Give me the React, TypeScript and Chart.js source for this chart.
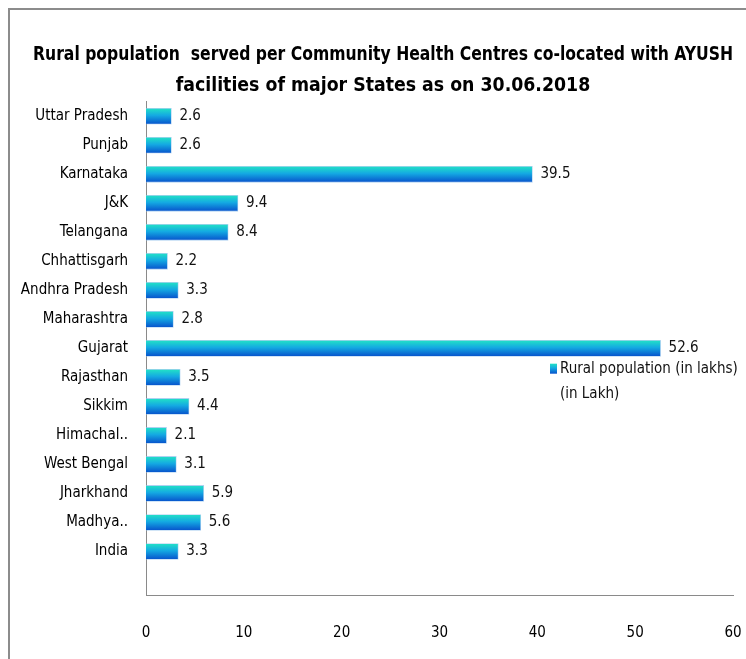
import React, { useEffect, useRef } from "react";
import { Chart, registerables } from "chart.js";

Chart.register(...registerables);

const categories = [
  "Uttar Pradesh", "Punjab", "Karnataka", "J&K", "Telangana", "Chhattisgarh",
  "Andhra Pradesh", "Maharashtra", "Gujarat", "Rajasthan", "Sikkim",
  "Himachal..", "West Bengal", "Jharkhand", "Madhya..", "India",
];
const values = [2.6, 2.6, 39.5, 9.4, 8.4, 2.2, 3.3, 2.8, 52.6, 3.5, 4.4, 2.1, 3.1, 5.9, 5.6, 3.3];
const xTicks = [0, 10, 20, 30, 40, 50, 60];
const seriesName = "Rural population (in lakhs)";
const legendExtra = "(in Lakh)";
const titleLines = [
  "Rural population  served per Community Health Centres co-located with AYUSH",
  "facilities of major States as on 30.06.2018",
];

const FONT = "'Liberation Sans Narrow', 'DejaVu Sans Condensed', 'Open Sans', sans-serif";
const BAR_H = 16;

function makeGrad(ctx: CanvasRenderingContext2D, top: number, h: number) {
  if (!isFinite(top) || !isFinite(h)) return "#14a9e2";
  const g = ctx.createLinearGradient(0, top, 0, top + h);
  g.addColorStop(0, "#22e2c6");
  g.addColorStop(0.45, "#14a9e2");
  g.addColorStop(1, "#0752cc");
  return g;
}

const titleShiftPlugin = {
  id: "titleShift",
  afterLayout(chart: any) {
    const t = chart.titleBlock;
    if (t) t.left = 23;
  },
};

const labelPlugin = {
  id: "valueLabels",
  afterDatasetsDraw(chart: any) {
    const ctx = chart.ctx;
    const meta = chart.getDatasetMeta(0);
    ctx.save();
    ctx.font = `15px ${FONT}`;
    ctx.fillStyle = "#111";
    ctx.textAlign = "left";
    ctx.textBaseline = "middle";
    meta.data.forEach((el: any, i: number) => {
      const v = values[i];
      if (v == null) return;
      ctx.fillText(v.toFixed(1), el.x + 8, el.y);
    });
    ctx.restore();
  },
};

const legendPlugin = {
  id: "customLegend",
  afterDraw(chart: any) {
    const ctx = chart.ctx;
    const area = chart.chartArea;
    const y = chart.scales.y.getPixelForValue(8.7);
    const x = area.right - 183;
    ctx.save();
    ctx.fillStyle = makeGrad(ctx, y - 5, 10);
    ctx.fillRect(x, y - 5, 7, 10);
    ctx.font = `15px ${FONT}`;
    ctx.fillStyle = "#111";
    ctx.textAlign = "left";
    ctx.textBaseline = "middle";
    ctx.fillText(seriesName, x + 10, y);
    ctx.fillText(legendExtra, x + 10, y + 25);
    ctx.restore();
  },
};

export default function App() {
  const ref = useRef<HTMLCanvasElement>(null);
  useEffect(() => {
    if (!ref.current) return;
    const chart = new Chart(ref.current, {
      type: "bar",
      data: {
        labels: [...categories, ""],
        datasets: [
          {
            label: seriesName,
            data: [...values, null] as any,
            barThickness: BAR_H,
            backgroundColor: (c: any) => {
              const ch = c.chart;
              const ys = ch.scales && ch.scales.y;
              if (!ys || c.dataIndex == null) return "#14a9e2";
              const yc = ys.getPixelForValue(c.dataIndex);
              return makeGrad(ch.ctx, yc - BAR_H / 2, BAR_H);
            },
            borderColor: "rgba(140,190,235,0.7)",
            borderWidth: 0.8,
          },
        ],
      },
      options: {
        indexAxis: "y",
        responsive: false,
        animation: false,
        layout: { padding: { left: 0, right: 13, top: 0, bottom: 0 } },
        plugins: {
          legend: { display: false },
          tooltip: { enabled: false },
          title: {
            display: true,
            text: titleLines,
            color: "#000",
            font: { family: FONT, size: 19.3, weight: "bold", lineHeight: 1.6 },
            padding: { top: 30, bottom: 0 },
          },
        },
        scales: {
          x: {
            min: 0,
            max: 60,
            afterBuildTicks: (s: any) => {
              s.ticks = xTicks.map((v) => ({ value: v }));
            },
            afterFit: (s: any) => {
              s.height = 64;
              s.paddingLeft = 0;
              s.paddingRight = 0;
            },
            grid: { display: false, drawTicks: false },
            border: { display: true, color: "#8a8a8a", width: 1 },
            ticks: {
              color: "#000",
              padding: 29,
              font: { family: FONT, size: 15 },
              maxRotation: 0,
            },
          },
          y: {
            afterFit: (s: any) => {
              s.width = 136;
            },
            grid: { display: false, drawTicks: false },
            border: { display: true, color: "#8a8a8a", width: 1 },
            ticks: {
              color: "#000",
              padding: 18,
              autoSkip: false,
              font: { family: FONT, size: 15 },
            },
          },
        },
      },
      plugins: [titleShiftPlugin, labelPlugin, legendPlugin],
    });
    return () => chart.destroy();
  }, []);
  return (
    <div
      style={{
        width: 746,
        height: 659,
        paddingLeft: 8,
        paddingTop: 8,
        boxSizing: "border-box",
        overflow: "hidden",
        background: "#fff",
      }}
    >
      <style>{"html,body{margin:0;padding:0;overflow:hidden;}"}</style>
      <div
        style={{
          width: 738,
          height: 651,
          borderLeft: "2px solid #8c8c8c",
          borderTop: "2px solid #8c8c8c",
          boxSizing: "border-box",
        }}
      >
        <canvas ref={ref} width={736} height={649} style={{ display: "block" }} />
      </div>
    </div>
  );
}
